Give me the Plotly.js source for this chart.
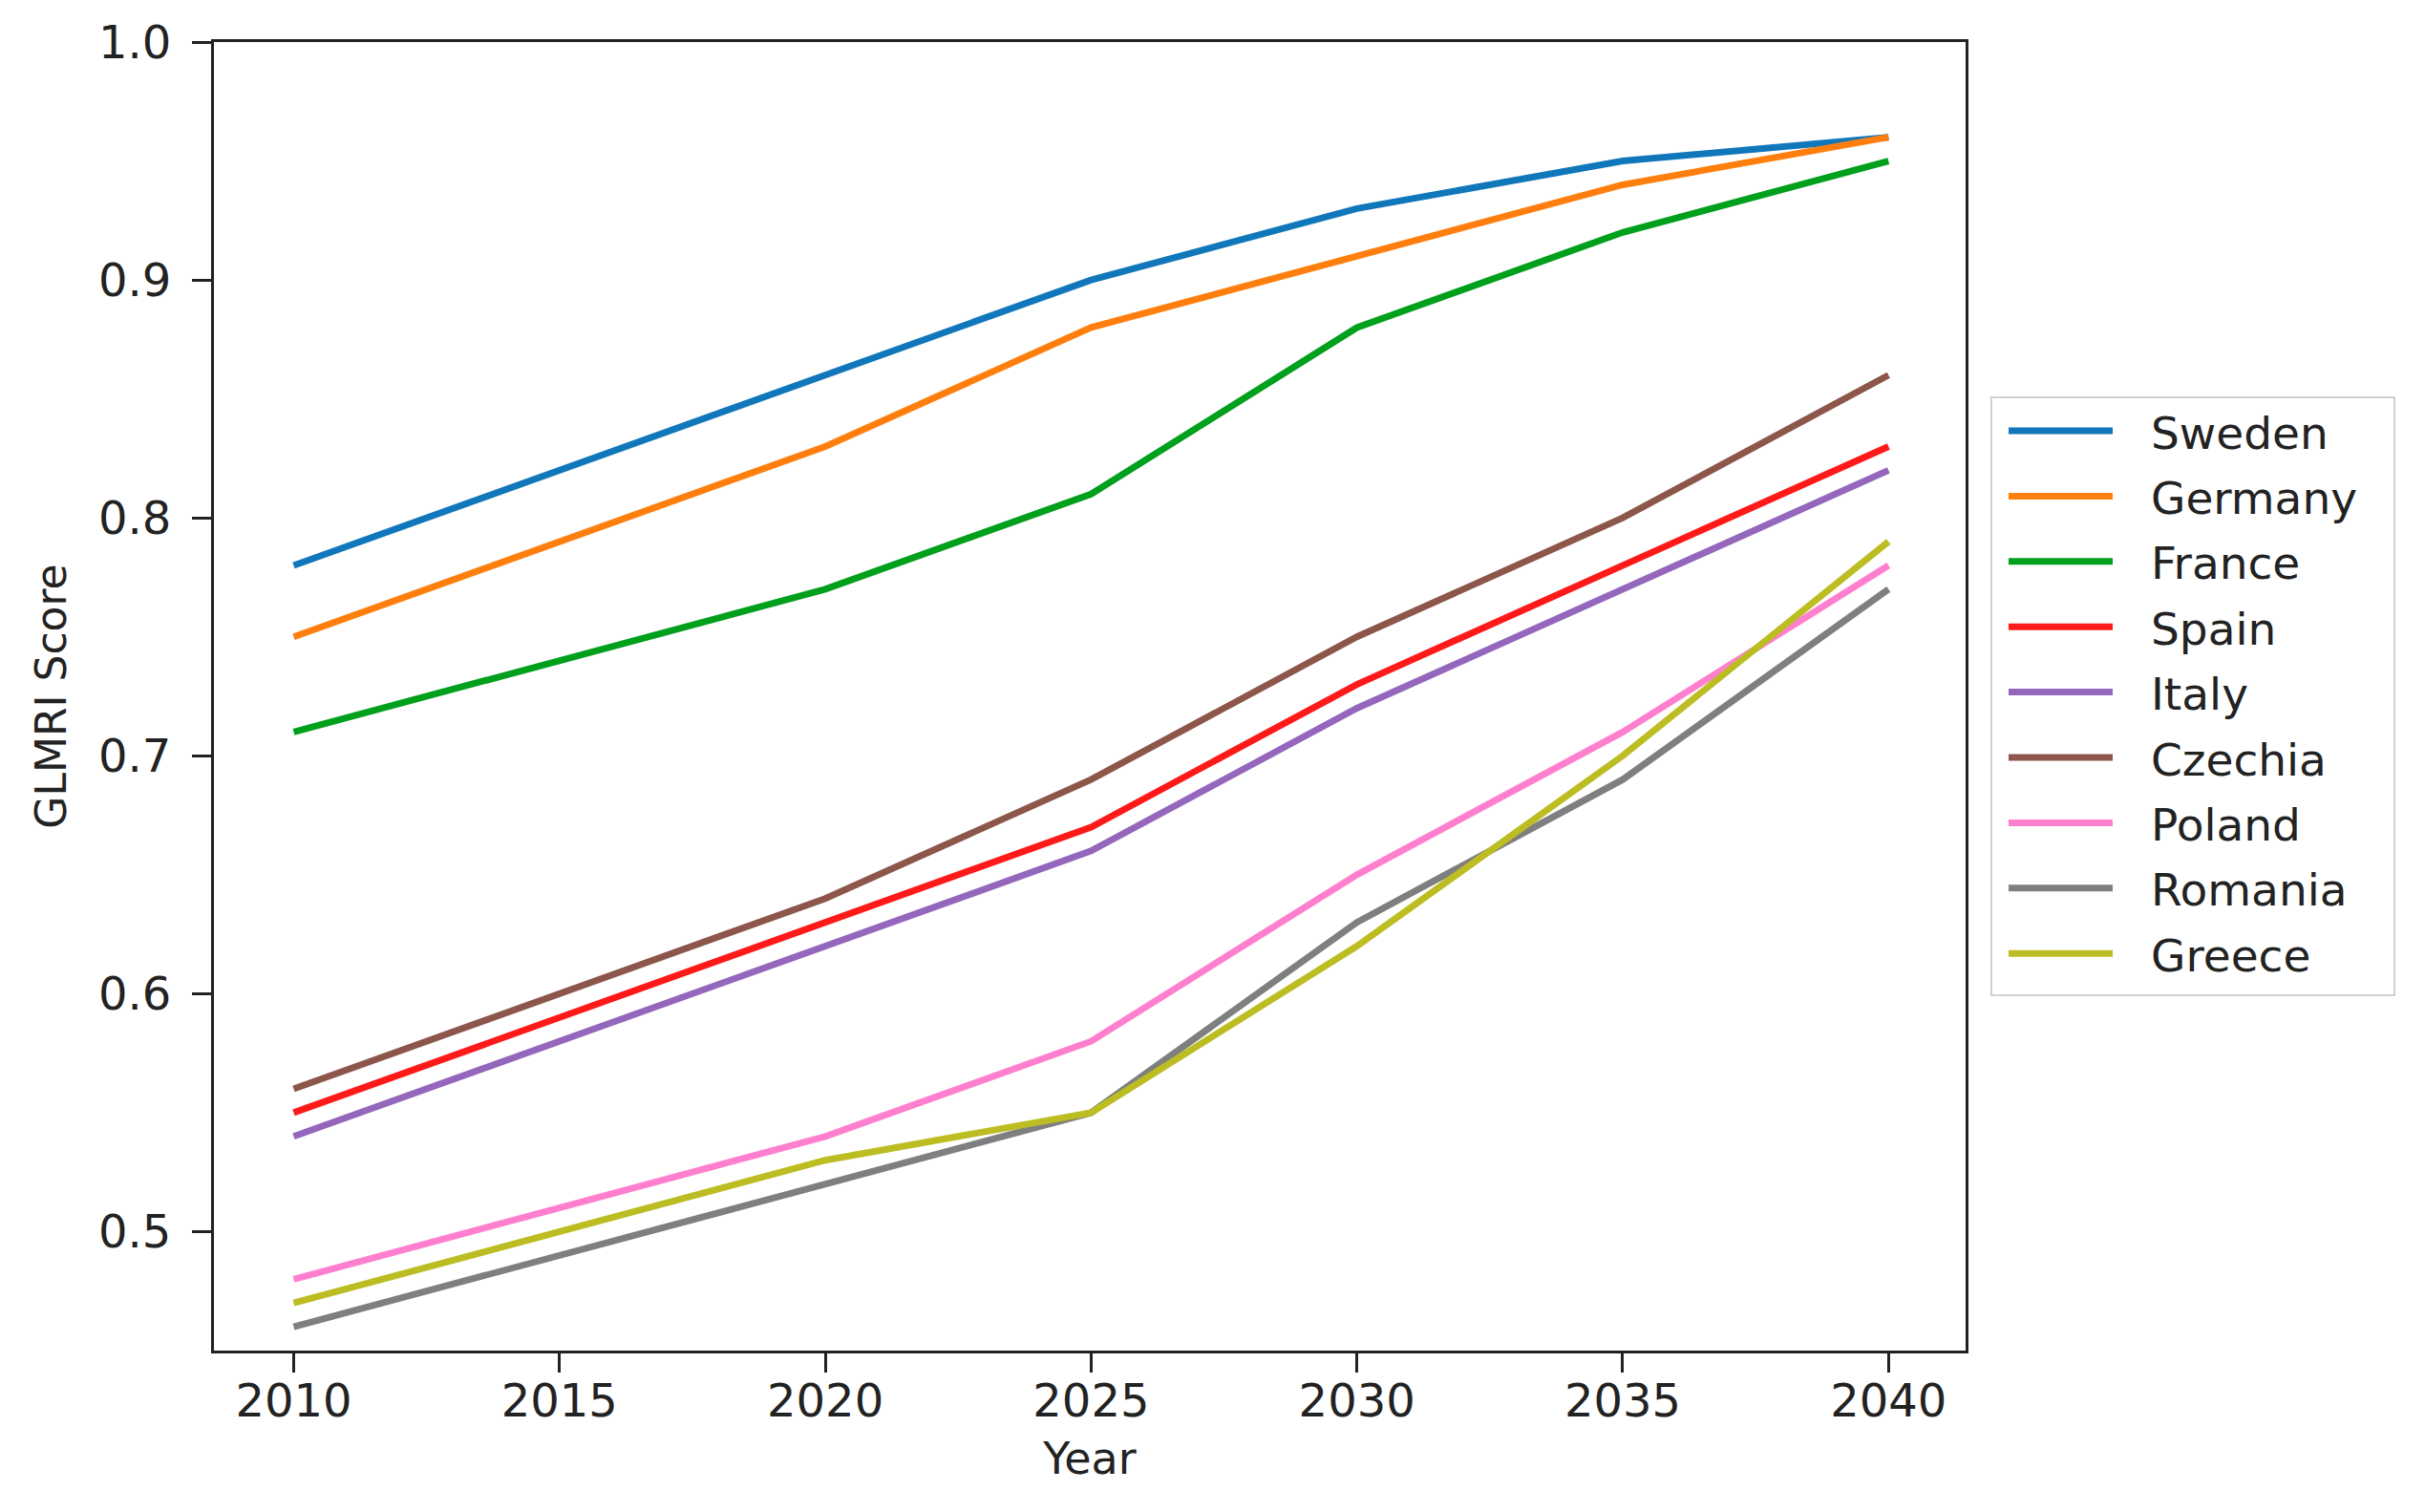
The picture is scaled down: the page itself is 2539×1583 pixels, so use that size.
<!DOCTYPE html>
<html>
<head>
<meta charset="utf-8">
<script src="https://cdn.plot.ly/plotly-3.0.1.min.js"></script>
<style>
html,body{margin:0;padding:0;background:#fff;}
#chart{width:2539px;height:1583px;}
</style>
</head>
<body>
<div id="chart"></div>
<script>
const years = [2010, 2020, 2025, 2030, 2035, 2040];
const countries = ["Sweden", "Germany", "France", "Spain", "Italy", "Czechia", "Poland", "Romania", "Greece"];
const sweden  = [0.78, 0.86, 0.90, 0.93, 0.95, 0.96];
const germany = [0.75, 0.83, 0.88, 0.91, 0.94, 0.96];
const france  = [0.71, 0.77, 0.81, 0.88, 0.92, 0.95];
const spain   = [0.55, 0.63, 0.67, 0.73, 0.78, 0.83];
const italy   = [0.54, 0.62, 0.66, 0.72, 0.77, 0.82];
const czechia = [0.56, 0.64, 0.69, 0.75, 0.80, 0.86];
const poland  = [0.48, 0.54, 0.58, 0.65, 0.71, 0.78];
const romania = [0.46, 0.52, 0.55, 0.63, 0.69, 0.77];
const greece  = [0.47, 0.53, 0.55, 0.62, 0.70, 0.79];
const xTicks = [2010, 2015, 2020, 2025, 2030, 2035, 2040];
const yTicks = [0.5, 0.6, 0.7, 0.8, 0.9, 1.0];

const series = [sweden, germany, france, spain, italy, czechia, poland, romania, greece];
const colors = ["#1177bb", "#ff7f0e", "#00a01c", "#ff1a1a", "#9467bd", "#8c564b", "#ff7fcf", "#7f7f7f", "#bcbd22"];

const FONT = "DejaVu Sans, sans-serif";
const TXT = "#222222";

const traces = series.map((vals, i) => ({
  type: "scatter",
  mode: "lines",
  name: countries[i],
  x: years,
  y: vals,
  line: {color: colors[i], width: 7},
  showlegend: false
}));

// plot area in pixels (for placing the legend panel outside the axes)
const W = 2539, H = 1583;
const L = 224, R = 2058, T = 44, B = 1414;
const px2x = p => (p - L) / (R - L);
const py2y = p => (B - p) / (B - T);

const shapes = [];
const annotations = [];
// legend frame
shapes.push({type: "rect", xref: "paper", yref: "paper",
  x0: px2x(2085), x1: px2x(2507), y0: py2y(416), y1: py2y(1042),
  line: {color: "#d0d0d0", width: 2}, fillcolor: "rgba(255,255,255,0.8)", layer: "above"});
countries.forEach((name, i) => {
  const yc = 451 + i * 68.4;
  shapes.push({type: "line", xref: "paper", yref: "paper",
    x0: px2x(2103), x1: px2x(2212), y0: py2y(yc), y1: py2y(yc),
    line: {color: colors[i], width: 7}, layer: "above"});
  annotations.push({xref: "paper", yref: "paper", x: px2x(2250), y: py2y(yc + 2),
    xanchor: "left", yanchor: "middle", showarrow: false, text: name,
    font: {family: FONT, size: 47, color: TXT}});
});

const layout = {
  width: W, height: H,
  margin: {l: L, r: W - R, t: T, b: H - B, pad: 0},
  paper_bgcolor: "#ffffff",
  plot_bgcolor: "#ffffff",
  font: {family: FONT, size: 48, color: TXT},
  showlegend: false,
  xaxis: {
    range: [2008.5, 2041.45],
    tickvals: xTicks,
    ticktext: xTicks.map(String),
    ticks: "outside", ticklen: 20, tickwidth: 3, tickcolor: TXT,
    showline: true, mirror: true, linecolor: TXT, linewidth: 3,
    showgrid: false, zeroline: false,
    tickfont: {family: FONT, size: 48, color: TXT},
    ticklabelstandoff: -12,
    title: {text: "Year", font: {family: FONT, size: 46, color: TXT}, standoff: 19}
  },
  yaxis: {
    range: [0.45, 1.0],
    tickvals: yTicks,
    tickformat: ".1f",
    ticks: "outside", ticklen: 20, tickwidth: 3, tickcolor: TXT,
    showline: true, mirror: true, linecolor: TXT, linewidth: 3,
    showgrid: false, zeroline: false,
    tickfont: {family: FONT, size: 48, color: TXT},
    ticklabelstandoff: 12,
    title: {text: "GLMRI Score", font: {family: FONT, size: 44, color: TXT}, standoff: 20}
  },
  shapes: shapes,
  annotations: annotations
};

Plotly.newPlot("chart", traces, layout, {displayModeBar: false, staticPlot: true});
</script>
</body>
</html>
